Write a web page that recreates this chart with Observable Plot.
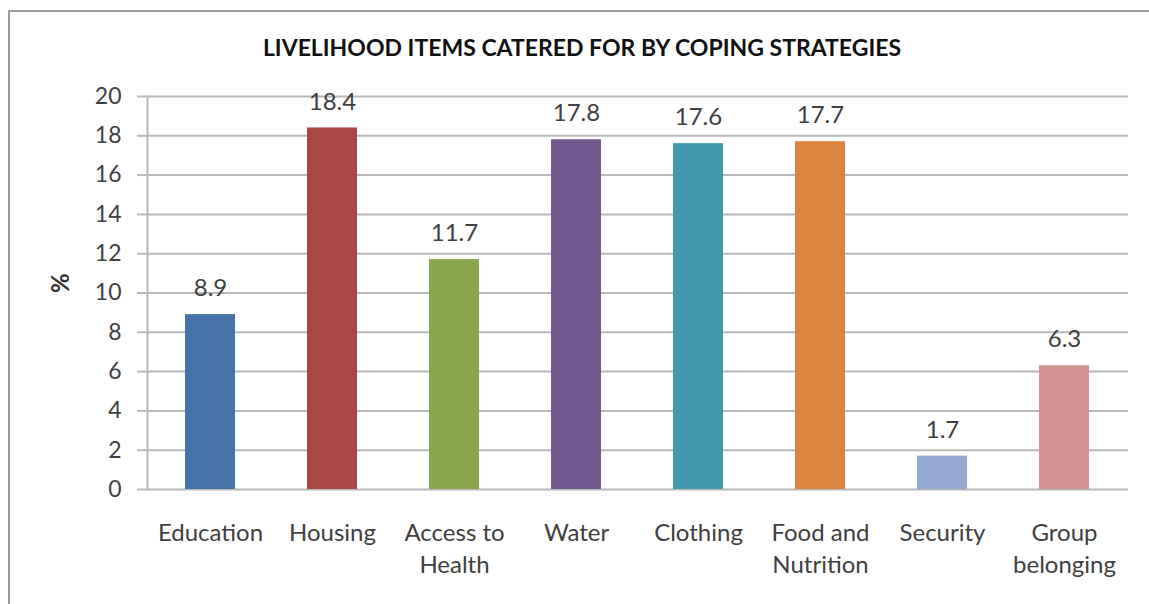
<!DOCTYPE html>
<html>
<head>
<meta charset="utf-8">
<script src="https://cdn.jsdelivr.net/npm/d3@7"></script>
<script src="https://cdn.jsdelivr.net/npm/@observablehq/plot@0.6"></script>
<style>
  html, body { margin: 0; padding: 0; background: #fff; }
  #wrap { position: relative; width: 1149px; height: 604px; overflow: hidden; font-family: Lato, "Open Sans", sans-serif; }
  #frame { position: absolute; left: 8px; top: 10px; width: 1200px; height: 700px; border-top: 2px solid #9a9a9a; border-left: 2px solid #9a9a9a; box-sizing: border-box; }
  #title { position: absolute; left: 0; top: 32px; width: 1164px; text-align: center; font-weight: bold; font-size: 23px; line-height: 30px; color: #111; }
  #chart { position: absolute; left: 0; top: 80px; }
</style>
</head>
<body>
<div id="wrap">
  <div id="frame"></div>
  <div id="title">LIVELIHOOD ITEMS CATERED FOR BY COPING STRATEGIES</div>
  <div id="chart"></div>
</div>
<script>
const categories = ["Education", "Housing", "Access to\nHealth", "Water", "Clothing", "Food and\nNutrition", "Security", "Group\nbelonging"];
const values = [8.9, 18.4, 11.7, 17.8, 17.6, 17.7, 1.7, 6.3];
const colors = ["#4572A7", "#AA4643", "#89A54E", "#71588F", "#4198AF", "#DB843D", "#93A9CF", "#D19392"];
const yTicks = [0, 2, 4, 6, 8, 10, 12, 14, 16, 18, 20];

const data = categories.map((c, i) => ({category: c, value: values[i], color: colors[i]}));

const chart = Plot.plot({
  width: 1149,
  height: 524,
  marginTop: 16,
  marginBottom: 115,
  marginLeft: 147,
  marginRight: 21,
  style: {fontFamily: "Lato, 'Open Sans', sans-serif", fontSize: "24px", color: "#404040", background: "transparent"},
  x: {domain: categories, paddingInner: 0.59, paddingOuter: 0.295, label: null},
  y: {domain: [0, 20], label: null},
  marks: [
    Plot.ruleY(yTicks, {stroke: "#b8b8b8", strokeWidth: 2}),
    Plot.frame({anchor: "left", stroke: "#b8b8b8", strokeWidth: 2}),
    Plot.axisY({ticks: yTicks, tickSize: 10, tickPadding: 16, stroke: "#b8b8b8", strokeWidth: 2, fontSize: 23, fill: "#404040", label: null}),
    Plot.axisX({tickSize: 0, tickPadding: 29, fontSize: 24, lineHeight: 1.33, fill: "#404040", label: null}),
    Plot.barY(data, {x: "category", y: "value", fill: "color"}),
    Plot.text(data, {x: "category", y: "value", text: d => d.value.toFixed(1), dy: -26, fontSize: 24, fill: "#404040", lineAnchor: "middle"}),
    Plot.text(["%"], {frameAnchor: "left", dx: -86, rotate: -90, fontSize: 24, fontWeight: "bold", fill: "#333", text: d => d})
  ]
});
document.getElementById("chart").appendChild(chart);
</script>
</body>
</html>
